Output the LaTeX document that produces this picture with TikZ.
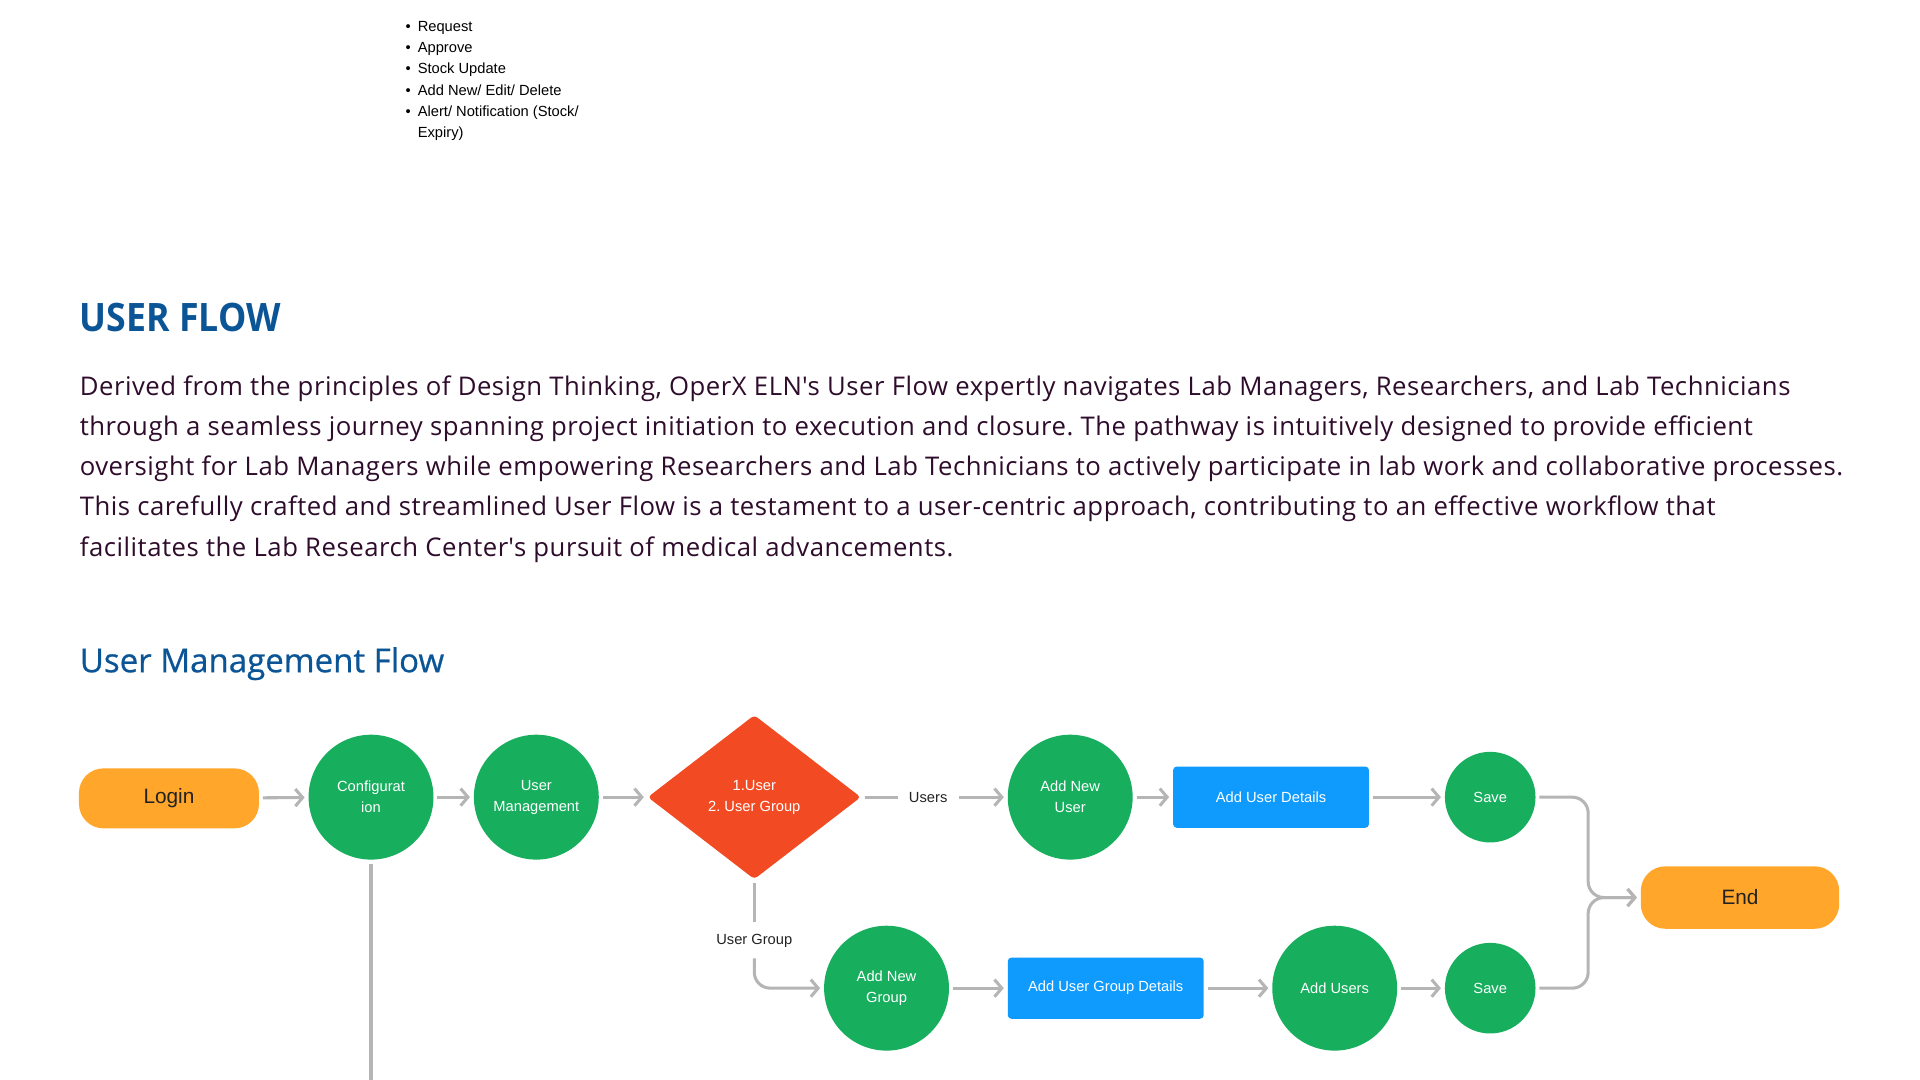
\documentclass[tikz,border=0pt]{standalone}
\usepackage{fontspec}
\setmainfont{Open Sans}
\newfontfamily\flowfont{Liberation Sans}
\newfontfamily\titlefont[FakeStretch=0.91]{Open Sans Bold}
\usetikzlibrary{arrows.meta, shapes.geometric}
\definecolor{titleblue}{HTML}{0B5596}
\definecolor{bodytext}{HTML}{2E0C2B}
\definecolor{termorange}{HTML}{FFA62B}
\definecolor{flowgreen}{HTML}{17AE5E}
\definecolor{flowred}{HTML}{F24B24}
\definecolor{flowblue}{HTML}{0F9AFE}
\definecolor{linegray}{HTML}{B5B5B5}
\definecolor{labeltext}{HTML}{222222}
\newcommand{\bul}{\makebox[10pt][l]{\textbullet}}
\tikzstyle{term}=[fill=termorange, rounded corners=20pt, minimum width=147pt, minimum height=49pt, font=\flowfont\fontsize{17}{20}\selectfont, text=labeltext]
\tikzstyle{stepcirc}=[circle, fill=flowgreen, minimum size=102pt, inner sep=0pt, align=center, text=white, font=\flowfont\fontsize{12}{17}\selectfont]
\tikzstyle{savecirc}=[stepcirc, minimum size=74pt]
\tikzstyle{detail}=[fill=flowblue, rounded corners=3pt, minimum width=160pt, minimum height=50pt, text=white, font=\flowfont\fontsize{12}{17}\selectfont]
\tikzstyle{choice}=[diamond, fill=flowred, rounded corners=3pt, inner sep=0pt, minimum width=174pt, minimum height=134pt, align=center, text=white, font=\flowfont\fontsize{12}{17}\selectfont]
\tikzstyle{lbl}=[font=\flowfont\fontsize{12}{14}\selectfont, text=labeltext, inner sep=6pt]
\tikzstyle{flow}=[draw=linegray, line width=2.5pt, shorten <=3pt, shorten >=3pt, rounded corners=13pt, -{Straight Barb[length=6pt, width=14pt]}]
\tikzstyle{link}=[draw=linegray, line width=2.5pt, shorten <=3pt, shorten >=3pt, rounded corners=13pt]

\begin{document}
\frenchspacing
\begin{tikzpicture}[x=1pt, y=1pt, node distance=135pt]
      \useasboundingbox (0,0) rectangle (1568,-882);

      % checklist at the top
      \node (tasks) [anchor=base west, inner sep=0pt, align=left, text=black, font=\flowfont\fontsize{12}{17.2}\selectfont] at (331,-112) {%
        \bul Request\\
        \bul Approve\\
        \bul Stock Update\\
        \bul Add New/ Edit/ Delete\\
        \bul Alert/ Notification (Stock/\\
        \hspace*{10pt}Expiry)};

      % headings and text
      \node (title) [anchor=base west, inner sep=0pt, text=titleblue, font=\titlefont\fontsize{32}{36}\selectfont] at (65,-271) {USER FLOW};
      \node (intro) [anchor=north west, inner sep=0pt, align=left, text=bodytext, font=\addfontfeature{LetterSpace=2.0}\fontsize{21}{32.7}\selectfont] at (65,-307) {%
        Derived from the principles of Design Thinking, OperX ELN\textquotesingle s User Flow expertly navigates Lab Managers, Researchers, and Lab Technicians\\
        through a seamless journey spanning project initiation to execution and closure. The pathway is intuitively designed to provide efficient\\
        oversight for Lab Managers while empowering Researchers and Lab Technicians to actively participate in lab work and collaborative processes.\\
        This carefully crafted and streamlined User Flow is a testament to a user-centric approach, contributing to an effective workflow that\\
        facilitates the Lab Research Center\textquotesingle s pursuit of medical advancements.};
      \node (subtitle) [anchor=base west, inner sep=0pt, text=titleblue, font=\addfontfeature{FakeBold=0.6}\fontsize{27}{32}\selectfont] at (65,-549) {User Management Flow};

      % main row
      \node [term] (login) at (138,-652) {Login};
      \node [stepcirc] (config) [right of=login, node distance=165pt, yshift=1pt] {Configurat\\ion};
      \node [stepcirc] (usermgmt) [right of=config] {User\\Management};
      \node [choice] (pick) [right of=usermgmt, node distance=178pt] {1.User\\2. User Group};
      \node [lbl] (users) [right of=pick, node distance=142pt] {Users};
      \node [stepcirc] (newuser) [right of=pick, node distance=258pt] {Add New\\User};
      \node [detail] (userdet) [right of=newuser, node distance=164pt] {Add User Details};
      \node [savecirc] (save1) [right of=userdet, node distance=179pt] {Save};

      % group row
      \node [lbl] (groups) [below of=pick, node distance=117pt] {User Group};
      \node [stepcirc] (newgroup) [below of=pick, node distance=156pt, xshift=108pt] {Add New\\Group};
      \node [detail] (groupdet) [right of=newgroup, node distance=179pt] {Add User Group Details};
      \node [stepcirc] (addusers) [right of=groupdet, node distance=187pt] {Add Users};
      \node [savecirc] (save2) [below of=save1, node distance=156pt] {Save};

      \node [term, minimum width=162pt, minimum height=51pt] (end) at (1421,-733) {End};
      \coordinate (join) at (1297,-733);
      \coordinate (cfgdown) at (303,-882);

      \path[flow] (login) -- (config);
      \path[flow] (config) -- (usermgmt);
      \path[flow] (usermgmt) -- (pick);
      \path[link] (pick.east) -- (users.west);
      \path[flow] (users) -- (newuser);
      \path[flow] (newuser) -- (userdet);
      \path[flow] (userdet) -- (save1);
      \path[flow] (save1.east) -| (join) -- (end.west);

      \path[link] (pick.south) -- (groups.north);
      \path[flow] (groups.south) |- (newgroup.west);
      \path[flow] (newgroup) -- (groupdet);
      \path[flow] (groupdet) -- (addusers);
      \path[flow] (addusers) -- (save2);
      \path[flow] (save2.east) -| (join) -- (end.west);

      \path[link, shorten >=0pt] (config.south) -- (cfgdown);
  \end{tikzpicture}
\end{document}
